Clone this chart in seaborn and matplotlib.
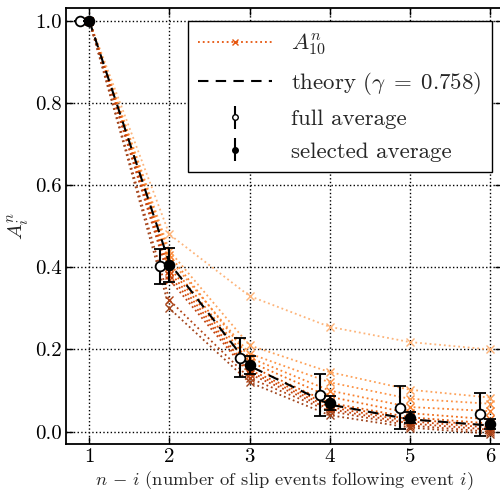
import numpy as np
import pandas as pd
import matplotlib
matplotlib.use("Agg")
import matplotlib.pyplot as plt
from matplotlib.lines import Line2D
import seaborn as sns

# ---- data ----
steps = [1, 2, 3, 4, 5, 6]
curves = [
    [1.0, 0.48, 0.33, 0.255, 0.218, 0.200],
    [1.0, 0.44, 0.21, 0.145, 0.102, 0.083],
    [1.0, 0.42, 0.19, 0.120, 0.080, 0.068],
    [1.0, 0.43, 0.18, 0.100, 0.060, 0.050],
    [1.0, 0.41, 0.17, 0.085, 0.045, 0.030],
    [1.0, 0.40, 0.16, 0.070, 0.035, 0.020],
    [1.0, 0.39, 0.15, 0.065, 0.030, 0.015],
    [1.0, 0.38, 0.145, 0.060, 0.025, 0.010],
    [1.0, 0.37, 0.14, 0.055, 0.020, 0.005],
    [1.0, 0.32, 0.13, 0.050, 0.015, 0.000],
    [1.0, 0.30, 0.12, 0.040, 0.010, -0.005],
]
curve_colors = ["#fdb47a", "#fda35c", "#fd9447", "#f98230", "#f06d1a",
                "#e55a0e", "#dc500a", "#d0490c", "#c04310", "#b04214", "#a0441c"]
theory = [1.0, 0.41, 0.16, 0.066, 0.030, 0.015]
full_x = [0.88, 1.88, 2.88, 3.88, 4.88, 5.88]
full_avg = [1.0, 0.402, 0.180, 0.090, 0.058, 0.042]
full_err = [0.0, 0.042, 0.047, 0.051, 0.052, 0.053]
sel_avg = [1.0, 0.405, 0.162, 0.070, 0.034, 0.019]
sel_err = [0.0, 0.042, 0.022, 0.018, 0.013, 0.012]
xticks = [1, 2, 3, 4, 5, 6]
yticks = [0.0, 0.2, 0.4, 0.6, 0.8, 1.0]

sns.set_theme(style="ticks")
plt.rcParams.update({
    "font.family": "serif",
    "font.serif": ["cmr10", "DejaVu Serif"],
    "mathtext.fontset": "cm",
    "axes.formatter.use_mathtext": True,
    "font.size": 14,
    "axes.unicode_minus": False,
})

fig = plt.figure(figsize=(5.0, 4.91), dpi=100)
ax = fig.add_axes([0.132, 0.0957, 0.872, 0.8875])

rows = []
for k, c in enumerate(curves):
    for s, v in zip(steps, c):
        rows.append({"step": s, "A": v, "curve": k})
df = pd.DataFrame(rows)
sns.lineplot(data=df, x="step", y="A", hue="curve", palette=curve_colors,
             linestyle=":", marker="x", markersize=5.5,
             linewidth=1.3, legend=False, ax=ax, zorder=2)
for ln in ax.lines:
    ln.set_markeredgecolor(ln.get_color())
    ln.set_markeredgewidth(1.0)

tdf = pd.DataFrame({"step": steps, "A": theory})
sns.lineplot(data=tdf, x="step", y="A", color="black", linestyle="--",
             linewidth=1.5, ax=ax, legend=False, zorder=3)
ax.lines[-1].set_dashes((5, 3.5))

ax.errorbar(full_x, full_avg, yerr=full_err, fmt="o", mfc="white", mec="black",
            ecolor="black", ms=7, mew=1.3, capsize=4, capthick=1.5, elinewidth=1.5,
            zorder=4)
ax.errorbar(steps, sel_avg, yerr=sel_err, fmt="o", mfc="black", mec="black",
            ecolor="black", ms=7, mew=1.3, capsize=4, capthick=1.5, elinewidth=1.5,
            zorder=5)

ax.set_xlim(0.71, 6.15)
ax.set_ylim(-0.03, 1.03)
ax.set_xticks(xticks)
ax.set_yticks(yticks)
ax.set_xticklabels([str(t) for t in xticks])
ax.set_yticklabels([f"{t:.1f}" for t in yticks])
ax.grid(True, color="black", linestyle=":", linewidth=1.0)
ax.tick_params(direction="in", top=True, right=True, length=5, width=1,
               labelsize=15, colors="black", pad=3)
for sp in ax.spines.values():
    sp.set_linewidth(1.3)
    sp.set_color("black")

ax.set_xlabel(r"$n\,-\,i$ (number of slip events following event $i$)", fontsize=13.3, labelpad=2)
ax.set_ylabel(r"$A_i^n$", fontsize=15, labelpad=3)

handles = [
    Line2D([], [], color="#e6550d", linestyle=":", marker="x", ms=4, mew=1, lw=1.3),
    Line2D([], [], color="black", linestyle=(0, (5, 3.5)), lw=1.5),
    ax.errorbar([], [], yerr=[], fmt="o", mfc="white", mec="black", ecolor="black",
                ms=4, mew=1, capsize=4, capthick=1.5, elinewidth=1.5),
    ax.errorbar([], [], yerr=[], fmt="o", mfc="black", mec="black", ecolor="black",
                ms=4, mew=1, capsize=4, capthick=1.5, elinewidth=1.5),
]
labels = [r"$A_{10}^n$", r"theory ($\gamma\;=\;0.758$)", "full average", "selected average"]
leg = ax.legend(handles, labels, loc="upper right", bbox_to_anchor=(0.977, 0.970),
                borderaxespad=0.0,
                fontsize=16.5, frameon=True, fancybox=False, edgecolor="black",
                framealpha=1.0, handlelength=3.2, borderpad=0.45,
                labelspacing=0.54, handletextpad=0.85)
leg.get_frame().set_linewidth(1.0)

fig.savefig("out.png", dpi=100)
